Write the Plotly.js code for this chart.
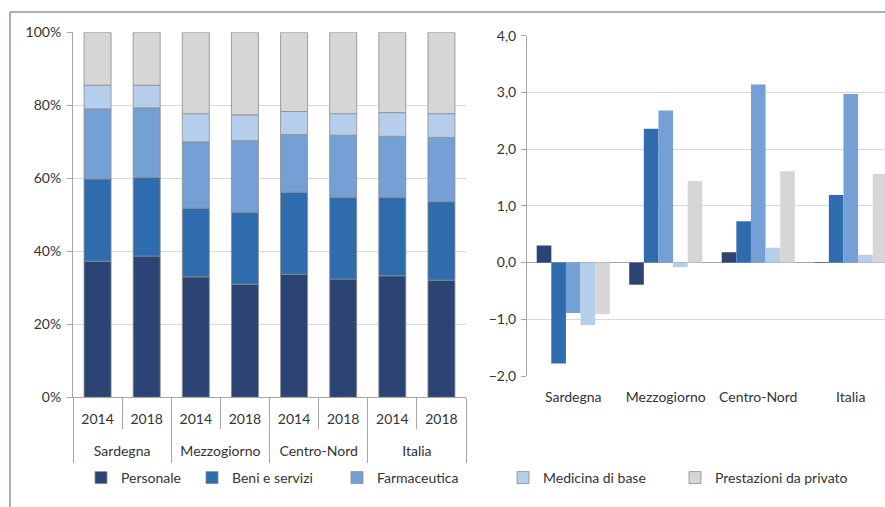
<!DOCTYPE html>
<html>
<head>
<meta charset="utf-8">
<script src="https://cdn.plot.ly/plotly-3.0.1.min.js"></script>
<style>html,body{margin:0;padding:0;background:#fff;}#chart{width:885px;height:507px;}</style>
</head>
<body>
<div id="chart"></div>
<script>
// ---- data ----
const groups = ['Sardegna','Sardegna','Mezzogiorno','Mezzogiorno','Centro-Nord','Centro-Nord','Italia','Italia'];
const years = ['2014','2018','2014','2018','2014','2018','2014','2018'];
const regions = ['Sardegna','Mezzogiorno','Centro-Nord','Italia'];
const seriesNames = ['Personale','Beni e servizi','Farmaceutica','Medicina di base','Prestazioni da privato'];

// composition of spending (%), left panel
const personaleShare    = [37.3, 38.7, 33.0, 31.0, 33.7, 32.4, 33.3, 32.1];
const beniShare         = [22.5, 21.5, 18.8, 19.7, 22.5, 22.4, 21.5, 21.5];
const farmaceuticaShare = [19.2, 19.1, 18.2, 19.6, 15.8, 17.0, 16.7, 17.6];
const medicinaShare     = [6.5, 6.2, 7.7, 7.1, 6.3, 5.9, 6.5, 6.5];
const prestazioniShare  = [14.5, 14.5, 22.3, 22.6, 21.7, 22.3, 22.0, 22.3];

// average annual change (%), right panel
const personaleChange    = [0.30, -0.39, 0.18, 0.01];
const beniChange         = [-1.78, 2.36, 0.73, 1.19];
const farmaceuticaChange = [-0.89, 2.68, 3.14, 2.97];
const medicinaChange     = [-1.10, -0.08, 0.26, 0.14];
const prestazioniChange  = [-0.91, 1.44, 1.61, 1.56];

const leftTickVals = [0, 20, 40, 60, 80, 100];
const leftTickText = ['0%', '20%', '40%', '60%', '80%', '100%'];
const rightTickVals = [-2, -1, 0, 1, 2, 3, 4];

// ---- styling ----
const colors = ['#2B4474', '#2E6CAE', '#74A0D6', '#B4CEEB', '#D6D6D6'];
const shares = [personaleShare, beniShare, farmaceuticaShare, medicinaShare, prestazioniShare];
const changes = [personaleChange, beniChange, farmaceuticaChange, medicinaChange, prestazioniChange];
const legendIds = ['legend', 'legend2', 'legend3', 'legend4', 'legend5'];
const legendX = [81, 192, 337, 503, 675];

// one unique category per bar (group + year), labelled with the year
const barKeys = groups.map((g, i) => g + ' ' + years[i]);

// stacking bases for the left panel (cumulative sum of the previous series)
const bases = shares.map((s, i) => s.map((_, j) => {
  let b = 0;
  for (let k = 0; k < i; k++) b += shares[k][j];
  return b;
}));

const traces = [];
seriesNames.forEach((name, i) => {
  traces.push({
    type: 'bar', name: name,
    x: barKeys, y: shares[i], base: bases[i],
    xaxis: 'x', yaxis: 'y',
    offsetgroup: 'L', width: 0.55,
    marker: {color: colors[i], line: {color: '#8c8c8c', width: 0.8}},
    legend: legendIds[i], legendgroup: name, showlegend: true,
    hoverinfo: 'skip'
  });
});
// invisible carrier for the region-level axis of the left panel
traces.push({
  type: 'scatter', mode: 'markers', x: regions, y: regions.map(() => null),
  xaxis: 'x3', yaxis: 'y', showlegend: false, hoverinfo: 'skip'
});
seriesNames.forEach((name, i) => {
  traces.push({
    type: 'bar', name: name,
    x: regions, y: changes[i],
    xaxis: 'x2', yaxis: 'y2',
    marker: {color: colors[i]},
    legendgroup: name, showlegend: false,
    hoverinfo: 'skip'
  });
});

const W = 885, H = 507;
const leftDomX = [73 / W, 466 / W];
const leftDomY = [1 - 397.3 / H, 1 - 32.3 / H];
const fontFam = 'Lato, "Open Sans", "Liberation Sans", sans-serif';
const layout = {
  width: W, height: H,
  margin: {l: 0, r: 0, t: 0, b: 0},
  paper_bgcolor: '#ffffff', plot_bgcolor: '#ffffff',
  font: {family: fontFam, size: 14, color: '#404040'},
  separators: ',.',
  barmode: 'group', bargap: 0.21, bargroupgap: 0,
  showlegend: true,
  xaxis: {
    domain: leftDomX, anchor: 'y', type: 'category',
    categoryorder: 'array', categoryarray: barKeys,
    tickvals: barKeys, ticktext: years,
    showgrid: false, showline: true, linecolor: '#a6a6a6', linewidth: 1,
    ticks: 'outside', tickson: 'boundaries', ticklen: 31, tickcolor: '#a6a6a6',
    ticklabelstandoff: 9,
    tickfont: {size: 14, color: '#333333'}
  },
  xaxis3: {
    domain: leftDomX, anchor: 'free', position: leftDomY[0], overlaying: 'x',
    type: 'category', categoryorder: 'array', categoryarray: regions,
    range: [-0.5, 3.5], fixedrange: true,
    showgrid: false, showline: false, zeroline: false,
    ticks: 'outside', tickson: 'boundaries', ticklen: 65, tickcolor: '#a6a6a6',
    ticklabelstandoff: 44,
    tickfont: {size: 14, color: '#333333'}
  },
  yaxis: {
    domain: leftDomY, anchor: 'x',
    range: [0, 100], tickvals: leftTickVals, ticktext: leftTickText,
    showgrid: true, gridcolor: '#d9d9d9', gridwidth: 1,
    showline: true, linecolor: '#a6a6a6', linewidth: 1,
    ticks: 'outside', ticklen: 5, tickcolor: '#a6a6a6',
    ticklabelstandoff: 3,
    zeroline: false, tickfont: {size: 14, color: '#333333'}
  },
  xaxis2: {
    domain: [527 / W, 1], anchor: 'y2', type: 'category',
    range: [-0.5, 3.37], showgrid: false, showline: false, ticks: '',
    ticklabelstandoff: 11, tickfont: {size: 14, color: '#333333'}
  },
  yaxis2: {
    domain: [1 - 376 / H, 1 - 35.7 / H], anchor: 'x2',
    range: [-2, 4], tickvals: rightTickVals, tickformat: '.1f',
    showgrid: true, gridcolor: '#d9d9d9', gridwidth: 1,
    showline: true, linecolor: '#a6a6a6', linewidth: 1,
    ticks: 'outside', ticklen: 5, tickcolor: '#a6a6a6',
    ticklabelstandoff: 2,
    zeroline: true, zerolinecolor: '#a6a6a6', zerolinewidth: 1,
    tickfont: {size: 14, color: '#333333'}
  },
  shapes: [
    {type: 'line', xref: 'paper', yref: 'paper', x0: 10 / W, x1: 1, y0: 1 - 12 / H, y1: 1 - 12 / H,
     line: {color: '#8a96a3', width: 1.5}},
    {type: 'line', xref: 'paper', yref: 'paper', x0: 10 / W, x1: 10 / W, y0: 0, y1: 1 - 12 / H,
     line: {color: '#8a96a3', width: 1.5}}
  ]
};
legendIds.forEach((id, i) => {
  layout[id] = {
    x: legendX[i] / W, xanchor: 'left', y: 1 - 478 / H, yanchor: 'middle',
    orientation: 'h', bgcolor: 'rgba(0,0,0,0)', borderwidth: 0,
    font: {size: 14, color: '#333333'}, itemclick: false, itemdoubleclick: false
  };
});

Plotly.newPlot('chart', traces, layout, {displayModeBar: false, staticPlot: true});
</script>
</body>
</html>
